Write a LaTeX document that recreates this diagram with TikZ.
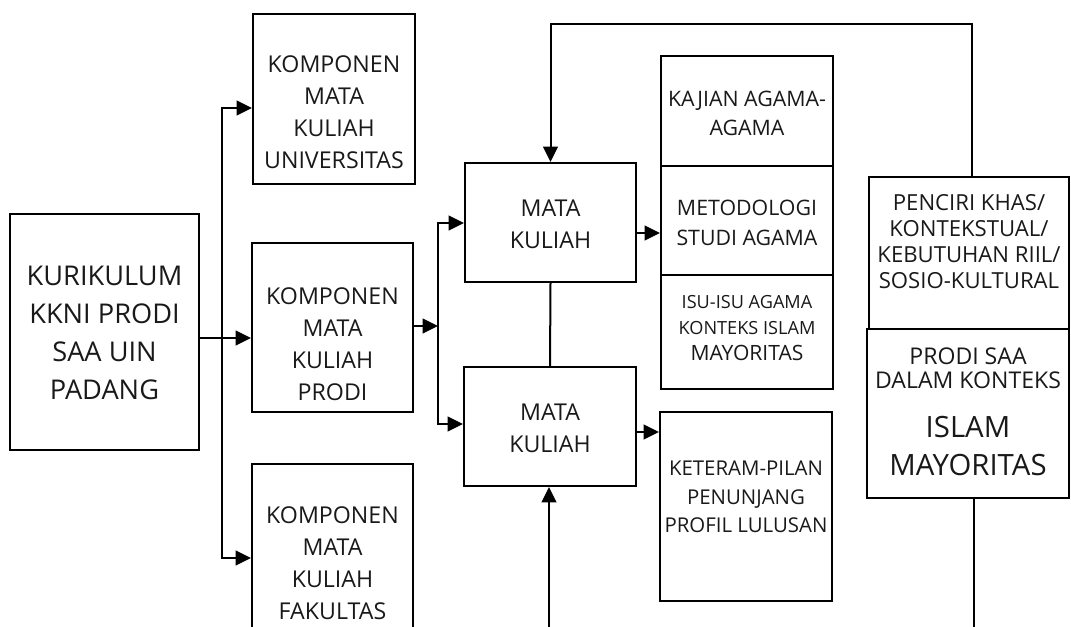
\documentclass[tikz,border=0pt]{standalone}
\usepackage{fontspec}
\setmainfont{Open Sans}
\usetikzlibrary{arrows.meta}
\tikzset{
  box/.style={draw, line width=1.5pt, rectangle, inner sep=0pt},
  conn/.style={line width=1.5pt},
  arr/.style={conn, -{Triangle[length=11.5pt,width=11pt]}},
  arrtwo/.style={conn, {Triangle[length=11.5pt,width=11pt]}-{Triangle[length=11.5pt,width=11pt]}},
  lbl/.style={align=center, inner sep=0pt, text=black!90},
}
\newcommand\pbox[5]{\node[box, minimum width={(#4-#2)*0.75pt}, minimum height={(#5-#3)*0.75pt}] (#1) at ({(#2+#4)/2},{(#3+#5)/2}) {};}
\begin{document}
\begin{tikzpicture}[x=0.75pt,y=-0.75pt]
\useasboundingbox (0,0) rectangle (1071,627);
\clip (0,0) rectangle (1071,627);
% boxes
\pbox{kur}{10}{214}{199}{450}
\pbox{univ}{253}{14}{415}{184}
\pbox{prodi}{252}{243}{413}{412}
\pbox{fak}{252}{464}{413}{680}
\pbox{mka}{465}{163}{636}{282}
\pbox{mkb}{464}{367}{636}{486}
\pbox{kaj}{661}{56}{833}{166}
\pbox{met}{661}{166}{833}{275}
\pbox{isu}{661}{275}{833}{389}
\pbox{ket}{660}{412}{832}{601}
\pbox{pen}{869}{177}{1069}{329}
\pbox{psaa}{867}{329}{1069}{498}
% texts
\node[lbl, font=\fontsize{20.4}{28.5}\selectfont] (kurT) at (104.5,332.5) {KURIKULUM\\KKNI PRODI\\SAA UIN\\PADANG};
\node[lbl, font=\fontsize{17.4}{24}\selectfont] (univT) at (334,112.5) {KOMPONEN\\MATA\\KULIAH\\UNIVERSITAS};
\node[lbl, font=\fontsize{17.4}{24}\selectfont] (prodiT) at (332.5,344) {KOMPONEN\\MATA\\KULIAH\\PRODI};
\node[lbl, font=\fontsize{17.4}{24}\selectfont] (fakT) at (332.5,563) {KOMPONEN\\MATA\\KULIAH\\FAKULTAS};
\node[lbl, font=\fontsize{17.4}{24}\selectfont] (mkaT) at (550.5,224) {MATA\\KULIAH};
\node[lbl, font=\fontsize{17.4}{24}\selectfont] (mkbT) at (550,428) {MATA\\KULIAH};
\node[lbl, font=\fontsize{16}{22}\selectfont] (kajT) at (747,113.5) {KAJIAN AGAMA-\\AGAMA};
\node[lbl, font=\fontsize{16}{22.5}\selectfont] (metT) at (747,223) {METODOLOGI\\STUDI AGAMA};
\node[lbl, font=\fontsize{13.6}{19.3}\selectfont] (isuT) at (747,328) {ISU-ISU AGAMA\\KONTEKS ISLAM\\{\fontsize{15.8}{19.3}\selectfont MAYORITAS}};
\node[lbl, font=\fontsize{15.3}{21.5}\selectfont] (ketT) at (746,497) {KETERAM-PILAN\\PENUNJANG\\PROFIL LULUSAN};
\node[lbl, font=\fontsize{16.6}{19.5}\selectfont] (penT) at (969,242) {PENCIRI KHAS/\\KONTEKSTUAL/\\KEBUTUHAN RIIL/\\SOSIO-KULTURAL};
\node[lbl, font=\fontsize{17.3}{17.8}\selectfont] (psaaT) at (968,368.5) {PRODI SAA\\DALAM KONTEKS};
\node[lbl, font=\fontsize{22}{28.5}\selectfont] (psaaU) at (968,446) {ISLAM\\MAYORITAS};
% connectors
\coordinate (ta) at (222,108);
\coordinate (tb) at (222,558);
\draw[arrtwo] (univ.west |- ta) -- (ta) -- (tb) -- (fak.west |- tb);
\coordinate (ka) at (199,338);
\draw[arr] (kur.east |- ka) -- (prodi.west |- ka);
\coordinate (pa) at (438,326);
\draw[arr] (prodi.east |- pa) -- (pa);
\coordinate (pb) at (438,223);
\coordinate (pc) at (438,424);
\draw[arrtwo] (mka.west |- pb) -- (pb) -- (pc) -- (mkb.west |- pc);
\coordinate (ma) at (640,233);
\draw[arr] (mka.east |- ma) -- (met.west |- ma);
\coordinate (mb) at (640,432);
\draw[arr] (mkb.east |- mb) -- (ket.west |- mb);
\draw[conn] (mka.south) -- (mkb.north);
\coordinate (bot) at (549,640);
\draw[arr] (bot) -- (bot |- mkb.south);
\coordinate (fb) at (972,24);
\draw[arr] (pen.north -| fb) -- (fb) -| (mka.north);
\coordinate (botb) at (974,640);
\draw[conn] (botb |- psaa.south) -- (botb);
\end{tikzpicture}
\end{document}
